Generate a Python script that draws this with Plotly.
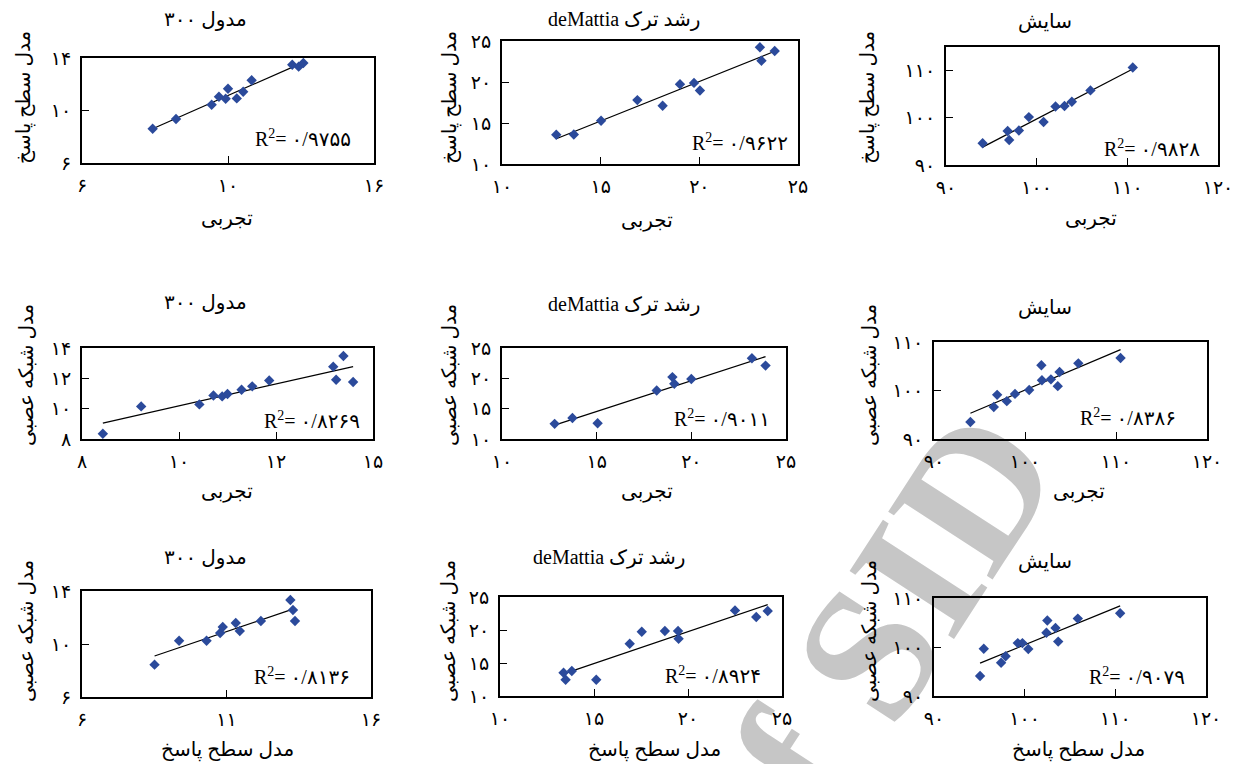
import numpy as np
import plotly.graph_objects as go

W, H = 1238, 764

# ---------------- data ----------------
# Row 1: response surface model vs experiment
r1p1_x = [8.42, 9.22, 10.44, 10.69, 10.92, 11.0, 11.3, 11.52, 11.81, 13.2, 13.42, 13.58]
r1p1_y = [8.61, 9.35, 10.44, 11.05, 10.9, 11.66, 10.92, 11.43, 12.3, 13.49, 13.34, 13.62]
r1p2_x = [12.75, 13.64, 15.02, 16.86, 18.14, 19.02, 19.73, 20.03, 23.07, 23.15, 23.82]
r1p2_y = [13.56, 13.6, 15.27, 17.79, 17.1, 19.73, 19.89, 18.96, 24.23, 22.6, 23.78]
r1p3_x = [94.04, 96.8, 96.97, 98.04, 99.14, 100.76, 102.08, 103.07, 103.88, 105.93, 110.6]
r1p3_y = [94.6, 97.2, 95.3, 97.3, 100.15, 99.1, 102.4, 102.5, 103.4, 105.8, 110.66]
# Row 2: neural network model vs experiment
r2p1_x = [8.43, 9.22, 10.42, 10.71, 10.89, 11.0, 11.29, 11.51, 11.86, 13.18, 13.24, 13.39, 13.59]
r2p1_y = [8.35, 10.15, 10.28, 10.87, 10.81, 10.97, 11.25, 11.47, 11.86, 12.77, 11.91, 13.47, 11.76]
r2p2_x = [12.78, 13.72, 15.05, 18.17, 19.0, 19.1, 20.0, 23.2, 23.92]
r2p2_y = [12.5, 13.45, 12.6, 18.0, 20.2, 19.1, 19.9, 23.3, 22.1]
r2p3_x = [94.0, 96.57, 96.94, 98.0, 98.9, 100.46, 101.8, 101.86, 102.85, 103.6, 103.8, 105.86, 110.5]
r2p3_y = [93.5, 96.6, 99.1, 97.8, 99.3, 100.1, 105.2, 102.1, 102.3, 100.9, 103.8, 105.6, 106.7]
# Row 3: neural network model vs response surface model
r3p1_x = [8.51, 9.36, 10.31, 10.78, 10.87, 11.32, 11.46, 12.19, 13.21, 13.3, 13.37]
r3p1_y = [8.44, 10.25, 10.25, 10.83, 11.28, 11.58, 10.98, 11.74, 13.32, 12.57, 11.74]
r3p2_x = [13.38, 13.49, 13.82, 15.12, 16.9, 17.54, 18.77, 19.47, 19.5, 22.5, 23.63, 24.24]
r3p2_y = [13.53, 12.47, 13.79, 12.47, 17.92, 19.74, 19.85, 19.85, 18.68, 22.97, 21.97, 22.88]
r3p3_x = [95.08, 95.49, 97.4, 97.9, 99.24, 99.75, 100.4, 102.4, 102.5, 103.4, 103.7, 105.86, 110.53]
r3p3_y = [94.08, 99.65, 96.8, 98.1, 100.8, 100.8, 99.6, 102.9, 105.4, 103.9, 101.1, 105.8, 106.9]

r2_labels = ["۰/۹۷۵۵", "۰/۹۶۲۲", "۰/۹۸۲۸",
             "۰/۸۲۶۹", "۰/۹۰۱۱", "۰/۸۳۸۶",
             "۰/۸۱۳۶", "۰/۸۹۲۴", "۰/۹۰۷۹"]

panel_titles = ["مدول ۳۰۰", "deMattia رشد ترک", "سایش"]
x_titles = ["تجربی", "تجربی", "مدل سطح پاسخ"]
y_titles = ["مدل سطح پاسخ", "مدل شبکه عصبی", "مدل شبکه عصبی"]

# axis ticks (values and Persian labels as printed)
ax_m1 = dict(range=[6, 16], vals=[6, 11, 16], text=["۶", "۱۰", "۱۶"])
ax_m1b = dict(range=[6, 16], vals=[6, 11, 16], text=["۶", "۱۱", "۱۶"])
ay_m1 = dict(range=[6, 14], vals=[6, 10, 14], text=["۶", "۱۰", "۱۴"])
ax_m2 = dict(range=[8, 14], vals=[8, 10, 12, 14], text=["۸", "۱۰", "۱۲", "۱۵"])
ay_m2 = dict(range=[8, 14], vals=[8, 10, 12, 14], text=["۸", "۱۰", "۱۲", "۱۴"])
ax_d = dict(range=[10, 25], vals=[10, 15, 20, 25], text=["۱۰", "۱۵", "۲۰", "۲۵"])
ay_d = ax_d
ax_a = dict(range=[90, 120], vals=[90, 100, 110, 120], text=["۹۰", "۱۰۰", "۱۱۰", "۱۲۰"])
ay_a1 = dict(range=[90, 115], vals=[90, 100, 110], text=["۹۰", "۱۰۰", "۱۱۰"])
ay_a2 = dict(range=[90, 110], vals=[90, 100, 110], text=["۹۰", "۱۰۰", "۱۱۰"])

panels = [
    (r1p1_x, r1p1_y, ax_m1, ay_m1), (r1p2_x, r1p2_y, ax_d, ay_d), (r1p3_x, r1p3_y, ax_a, ay_a1),
    (r2p1_x, r2p1_y, ax_m2, ay_m2), (r2p2_x, r2p2_y, ax_d, ay_d), (r2p3_x, r2p3_y, ax_a, ay_a2),
    (r3p1_x, r3p1_y, ax_m1b, ay_m1), (r3p2_x, r3p2_y, ax_d, ay_d), (r3p3_x, r3p3_y, ax_a, ay_a2),
]

# ---------------- layout geometry (pixels in the 1238x764 window) ----------------
boxes = [  # x0, x1, ytop, ybottom
    (82, 374, 58, 163), (502, 798, 41, 164), (946, 1218, 47, 165),
    (82, 373, 348, 439), (502, 786, 348, 439), (934, 1207, 342, 439),
    (82, 371, 591, 697), (500, 782, 597, 696), (934, 1206, 598, 696),
]
title_pos = [(205, 20), (624, 20), (1045, 22), (205, 303), (624, 304), (1045, 308),
             (205, 557), (609, 557), (1045, 561)]
xt_pos = [(227, 218), (647, 220), (1091, 218), (227, 492), (647, 492), (1079, 492),
          (227, 750), (654, 750), (1078, 750)]
yt_pos = [(24, 98), (450, 98), (868, 98), (26, 375), (449, 375), (869, 375),
          (26, 631), (448, 631), (869, 631)]
r2_pos = [(353, 138), (790, 142), (1202, 148), (362, 420), (772, 418), (1178, 417),
          (352, 676), (763, 675), (1187, 676)]


def fx(p):
    return p / W


def fy(p):
    return 1 - p / H


FONT = "Liberation Serif, DejaVu Sans, serif"
MARK = "#2B4A9B"

fig = go.Figure()
annotations = []
for i, (xs, ys, axx, axy) in enumerate(panels):
    n = i + 1
    xa = "x" if n == 1 else f"x{n}"
    ya = "y" if n == 1 else f"y{n}"
    xs_a = np.array(xs)
    ys_a = np.array(ys)
    k, b = np.polyfit(xs_a, ys_a, 1)
    lx = np.array([xs_a.min(), xs_a.max()])
    fig.add_trace(go.Scatter(x=lx, y=k * lx + b, mode="lines",
                             line=dict(color="black", width=1.2),
                             xaxis=xa, yaxis=ya, showlegend=False, hoverinfo="skip"))
    fig.add_trace(go.Scatter(x=xs, y=ys, mode="markers",
                             marker=dict(symbol="diamond", size=8, color=MARK),
                             xaxis=xa, yaxis=ya, showlegend=False))
    x0, x1, yt, yb = boxes[i]
    common = dict(showline=True, mirror=True, linecolor="black", linewidth=2,
                  ticks="inside", ticklen=7, tickwidth=1, tickcolor="black",
                  showgrid=False, zeroline=False, automargin=False,
                  tickfont=dict(family=FONT, size=19, color="black"))
    xkey = "xaxis" if n == 1 else f"xaxis{n}"
    ykey = "yaxis" if n == 1 else f"yaxis{n}"
    fig.update_layout(**{
        xkey: dict(domain=[fx(x0), fx(x1)], range=axx["range"], tickmode="array",
                   tickvals=axx["vals"], ticktext=axx["text"], anchor=ya,
                   ticklabelstandoff=4, **common),
        ykey: dict(domain=[fy(yb), fy(yt)], range=axy["range"], tickmode="array",
                   tickvals=axy["vals"], ticktext=axy["text"], anchor=xa,
                   ticklabelstandoff=5, **common),
    })
    col = i % 3
    row = i // 3
    tx, ty = title_pos[i]
    annotations.append(dict(text=panel_titles[col], x=fx(tx), y=fy(ty), xref="paper", yref="paper",
                            showarrow=False, xanchor="center", yanchor="middle",
                            font=dict(family=FONT, size=20, color="black")))
    tx, ty = xt_pos[i]
    annotations.append(dict(text=x_titles[row], x=fx(tx), y=fy(ty), xref="paper", yref="paper",
                            showarrow=False, xanchor="center", yanchor="middle",
                            font=dict(family=FONT, size=20, color="black")))
    tx, ty = yt_pos[i]
    annotations.append(dict(text=y_titles[row], x=fx(tx), y=fy(ty), xref="paper", yref="paper",
                            showarrow=False, xanchor="center", yanchor="middle", textangle=-90,
                            font=dict(family=FONT, size=20, color="black")))
    tx, ty = r2_pos[i]
    annotations.append(dict(text="R<sup>2</sup>= " + r2_labels[i], x=fx(tx), y=fy(ty),
                            xref="paper", yref="paper", showarrow=False,
                            xanchor="right", yanchor="middle",
                            font=dict(family=FONT, size=20, color="black")))

# watermark (drawn beneath the charts)
wx, wy = 852, 640
fig.add_shape(type="rect", xref="paper", yref="paper", layer="below",
              x0=fx(wx - 5), x1=fx(wx + 5), y0=fy(wy + 5), y1=fy(wy - 5),
              line=dict(width=0), fillcolor="rgba(0,0,0,0)",
              label=dict(text="of SID", textangle=-57, textposition="middle center",
                         font=dict(family="Liberation Serif", size=190, color="#C6C6C6",
                                   weight="bold")))

fig.update_layout(width=W, height=H, autosize=False, template="none",
                  margin=dict(l=0, r=0, t=0, b=0, pad=0),
                  paper_bgcolor="white", plot_bgcolor="rgba(0,0,0,0)",
                  annotations=annotations)

fig.write_html("out.html", config={"displayModeBar": False},
               post_script="document.body.style.margin='0';document.body.style.overflow='hidden';")
